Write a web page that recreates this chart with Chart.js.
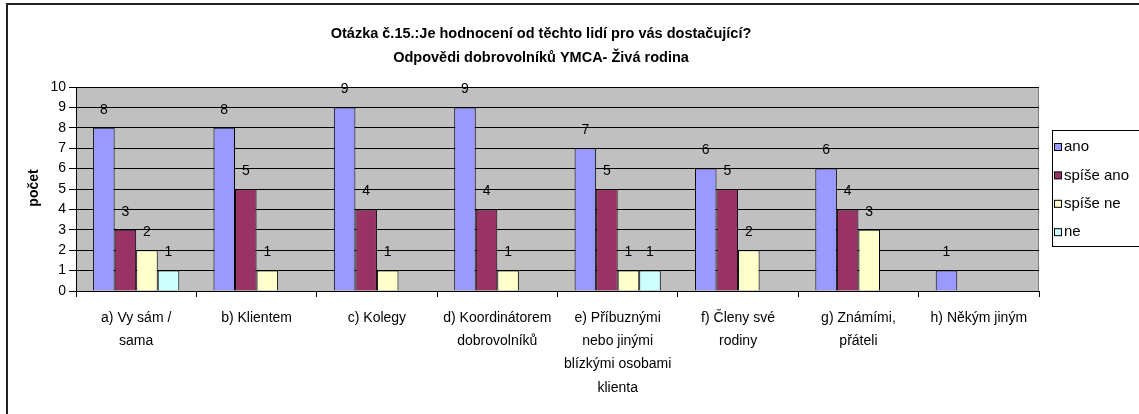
<!DOCTYPE html>
<html>
<head>
<meta charset="utf-8">
<script src="https://cdn.jsdelivr.net/npm/chart.js@4"></script>
<style>
    html, body { margin: 0; padding: 0; background: #fff; }
    #wrap { width: 1139px; height: 414px; position: relative; }
</style>
</head>
<body>
<div id="wrap"><canvas id="chart" width="1139" height="414"></canvas></div>
<script>
const categories = [
    ['a) Vy sám /', 'sama'],
    'b) Klientem',
    'c) Kolegy',
    ['d) Koordinátorem', 'dobrovolníků'],
    ['e) Příbuznými', 'nebo jinými', 'blízkými osobami', 'klienta'],
    ['f) Členy své', 'rodiny'],
    ['g) Známími,', 'přáteli'],
    'h) Někým jiným'
];
const seriesNames = ['ano', 'spíše ano', 'spíše ne', 'ne'];
const ano = [8, 8, 9, 9, 7, 6, 6, 1];
const spiseAno = [3, 5, 4, 4, 5, 5, 4, 0];
const spiseNe = [2, 1, 1, 1, 1, 2, 3, 0];
const ne = [1, 0, 0, 0, 1, 0, 0, 0];
const yTicks = [0, 1, 2, 3, 4, 5, 6, 7, 8, 9, 10];
const titleLines = ['Otázka č.15.:Je hodnocení od těchto lidí pro vás dostačující?', 'Odpovědi dobrovolníků YMCA- Živá rodina'];

const colors = ['#9999FF', '#993366', '#FFFFCC', '#CCFFFF'];
const FONT = '"Liberation Sans", Arial, sans-serif';

// grey plot area, frame, titles, value labels and the boxed legend
const excelLook = {
    id: 'excelLook',
    beforeDraw(chart) {
        const { ctx, chartArea: a } = chart;
        ctx.save();
        ctx.fillStyle = '#fff';
        ctx.fillRect(0, 0, chart.width, chart.height);
        ctx.fillStyle = '#C0C0C0';
        ctx.fillRect(a.left, a.top, a.right - a.left, a.bottom - a.top);
        ctx.strokeStyle = '#808080';
        ctx.lineWidth = 1;
        ctx.strokeRect(a.left + 0.5, a.top + 0.5, a.right - a.left - 1, a.bottom - a.top);
        // outer frame (only top and left are visible)
        ctx.strokeStyle = '#222';
        ctx.lineWidth = 2;
        ctx.strokeRect(7, 4, chart.width + 10, chart.height + 10);
        ctx.restore();
    },
    afterDraw(chart) {
        const { ctx } = chart;
        ctx.save();
        ctx.fillStyle = '#000';
        ctx.textAlign = 'center';
        ctx.textBaseline = 'middle';
        ctx.font = 'bold 14.5px ' + FONT;
        titleLines.forEach((t, i) => ctx.fillText(t, 541, 34 + i * 24));

        ctx.font = 'bold 14px ' + FONT;
        ctx.translate(34, 188);
        ctx.rotate(-Math.PI / 2);
        ctx.fillText('počet', 0, 0);
        ctx.restore();

        // value labels above bars
        ctx.save();
        ctx.font = '14px ' + FONT;
        ctx.fillStyle = '#000';
        ctx.textAlign = 'center';
        ctx.textBaseline = 'middle';
        chart.data.datasets.forEach((ds, di) => {
            chart.getDatasetMeta(di).data.forEach((bar, i) => {
                if (!ds.data[i]) return;
                ctx.fillText(String(ds.data[i]), bar.x, bar.y - 18);
            });
        });
        ctx.restore();

        // legend
        ctx.save();
        const lx = 1052, ly = 130, lw = 100, lh = 116;
        ctx.fillStyle = '#fff';
        ctx.fillRect(lx, ly, lw, lh);
        ctx.strokeStyle = '#000';
        ctx.lineWidth = 1;
        ctx.strokeRect(lx + 0.5, ly + 0.5, lw, lh);
        ctx.font = '15px ' + FONT;
        ctx.textAlign = 'left';
        ctx.textBaseline = 'middle';
        chart.data.datasets.forEach((ds, i) => {
            const y = 147 + i * 28.4;
            ctx.fillStyle = ds.backgroundColor;
            ctx.fillRect(lx + 2.5, y - 3.5, 7, 7);
            ctx.strokeStyle = '#000';
            ctx.strokeRect(lx + 2.5, y - 3.5, 7, 7);
            ctx.fillStyle = '#000';
            ctx.fillText(ds.label, lx + 12, y);
        });
        ctx.restore();
    }
};

const seriesData = [ano, spiseAno, spiseNe, ne];

new Chart(document.getElementById('chart'), {
    type: 'bar',
    data: {
        labels: categories,
        datasets: seriesNames.map((name, i) => ({
            label: name,
            data: seriesData[i],
            backgroundColor: colors[i],
            borderColor: '#000',
            borderWidth: 1,
            categoryPercentage: 0.716,
            barPercentage: 1
        }))
    },
    options: {
        responsive: false,
        animation: false,
        layout: { padding: { left: 0, top: 87, right: 100, bottom: 0 } },
        plugins: { legend: { display: false }, title: { display: false }, tooltip: { enabled: false } },
        scales: {
            x: {
                afterFit(scale) { scale.height = 414 - 291; },
                grid: { offset: true, drawOnChartArea: false, drawTicks: true, tickLength: 6, color: '#000' },
                border: { color: '#000' },
                ticks: { color: '#000', font: { family: FONT, size: 14, lineHeight: 1.67 }, padding: 9, maxRotation: 0, autoSkip: false }
            },
            y: {
                min: 0, max: 10,
                afterFit(scale) { scale.width = 76; },
                afterBuildTicks(scale) { scale.ticks = yTicks.map(v => ({ value: v })); },
                grid: { color: '#000', tickLength: 7, drawTicks: true },
                border: { color: '#000' },
                ticks: { color: '#000', font: { family: FONT, size: 14 }, padding: 3 }
            }
        }
    },
    plugins: [excelLook]
});
</script>
</body>
</html>
